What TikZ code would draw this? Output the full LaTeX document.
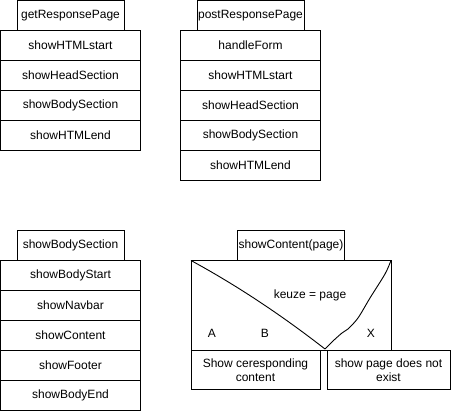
\documentclass[tikz,border=0pt]{standalone}
\usepackage{fontspec}
\setmainfont{Liberation Sans}
\usetikzlibrary{positioning}

\begin{document}
\begin{tikzpicture}[
  x=1pt, y=-1pt,
  font=\fontsize{12}{14}\selectfont,
  line width=0.9pt,
  cell/.style={draw, minimum width=140pt, minimum height=30pt, inner sep=0pt, outer sep=0pt},
  title/.style={draw, minimum width=107pt, minimum height=30pt, inner sep=0pt, outer sep=0pt},
  keuzebox/.style={draw, minimum width=200pt, minimum height=90pt, inner sep=0pt, outer sep=0pt},
  optbox/.style={draw, minimum height=39pt, inner sep=0pt, outer sep=0pt, align=center, anchor=north west},
  lbl/.style={inner sep=0pt},
]
\useasboundingbox (0,0) rectangle (451,411);
% getResponsePage
\node[title] (get) at (70.5,15.5) {getResponsePage};
\node[cell, below=0pt of get] (get1) {showHTMLstart};
\node[cell, below=0pt of get1] (get2) {showHeadSection};
\node[cell, below=0pt of get2] (get3) {showBodySection};
\node[cell, below=0pt of get3] (get4) {showHTMLend};
% postResponsePage
\node[title] (post) at (250.5,15.5) {postResponsePage};
\node[cell, below=0pt of post] (post1) {handleForm};
\node[cell, below=0pt of post1] (post2) {showHTMLstart};
\node[cell, below=0pt of post2] (post3) {showHeadSection};
\node[cell, below=0pt of post3] (post4) {showBodySection};
\node[cell, below=0pt of post4] (post5) {showHTMLend};
% showBodySection
\node[title] (body) at (70.5,245.5) {showBodySection};
\node[cell, below=0pt of body] (body1) {showBodyStart};
\node[cell, below=0pt of body1] (body2) {showNavbar};
\node[cell, below=0pt of body2] (body3) {showContent};
\node[cell, below=0pt of body3] (body4) {showFooter};
\node[cell, below=0pt of body4] (body5) {showBodyEnd};
% showContent(page)
\node[title] (content) at (291,245.5) {showContent(page)};
\node[keuzebox, below=0pt of content] (kz) {};
\node[optbox, minimum width=129pt] (optA) at (kz.south west) {Show ceresponding\\content};
\node[optbox, minimum width=123pt] (optX) at (327,350.5) {show page does not\\exist};
\coordinate (v) at (325,349);
\draw (kz.north west) .. controls (236,285) and (280,314) .. (v);
\draw plot[smooth] coordinates {(v) (333,341) (342,333) (348,329) (358,318) (370,298) (385,274) (kz.north east)};
\node[lbl] (keuze) at (310,295) {keuze = page};
\node[lbl] (a) at (212,333) {A};
\node[lbl] (b) at (265,333) {B};
\node[lbl] (x) at (371,333) {X};
\end{tikzpicture}
\end{document}
